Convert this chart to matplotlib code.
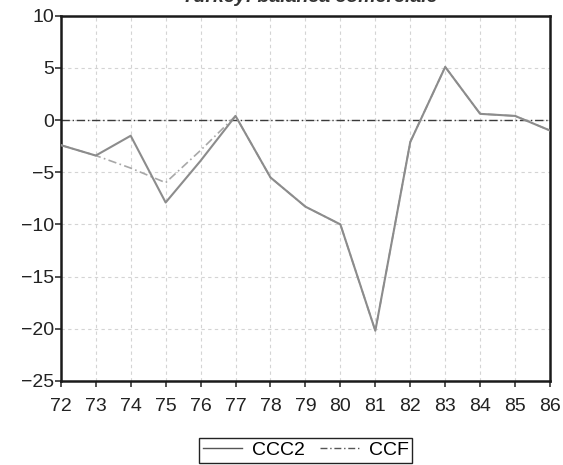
#!/usr/bin/env python3

import matplotlib
matplotlib.use('Agg')
import matplotlib.pyplot as plt

# years on the x axis (two-digit labels)
YEARS = list(range(72, 87))
CCC2 = [-2.4, -3.4, -1.5, -7.9, -3.9, 0.4, -5.5, -8.3, -10.0, -20.2, -2.1, 5.1, 0.6, 0.4, -1.0]
CCF = [-2.4, -3.4, -4.6, -6.0, -2.9, 0.4, -5.5, -8.3, -10.0, -20.2, -2.1, 5.1, 0.6, 0.4, -1.0]
Y_TICKS = [10, 5, 0, -5, -10, -15, -20, -25]
TITLE = "Turkey: balanca comerciale"

FONT_SIZE = 14
LINE_COLOR = "#8c8c8c"

plt.rcParams['font.family'] = ['Liberation Sans', 'DejaVu Sans']
plt.rcParams['font.size'] = FONT_SIZE

fig = plt.figure(figsize=(5.63, 4.65), dpi=100)
ax = fig.add_axes([0.108, 0.181, 0.869, 0.785])

ax.grid(True, color="#d4d4d4", linestyle=(0, (3, 3)), linewidth=0.8)
ax.set_axisbelow(True)

ax.axhline(0, color="#3a3a3a", linestyle=(0, (6, 2, 1, 2)), linewidth=1.0, zorder=2)
ax.plot(YEARS, CCF, color="#a8a8a8", linestyle=(0, (5, 2, 1, 2)), linewidth=1.2, label="CCF", zorder=3)
ax.plot(YEARS, CCC2, color=LINE_COLOR, linestyle='-', linewidth=1.5, label="CCC2", zorder=4)

ax.set_xlim(72, 86)
ax.set_ylim(-25, 10)
ax.set_xticks(YEARS)
ax.set_xticklabels([str(y) for y in YEARS])
ax.set_yticks(Y_TICKS)
ax.set_yticklabels([str(t).replace('-', '\u2212') for t in Y_TICKS])

for side in ['left', 'bottom', 'top', 'right']:
	ax.spines[side].set_color('#1a1a1a')
	ax.spines[side].set_linewidth(1.8)

ax.tick_params(axis='both', direction='out', length=4, width=1.2, color='#333333',
			   labelsize=FONT_SIZE, labelcolor='#222222')
ax.tick_params(axis='x', pad=8)
ax.tick_params(axis='y', pad=1)

# reorder legend: CCC2 then CCF
handles, labels = ax.get_legend_handles_labels()
order = [labels.index("CCC2"), labels.index("CCF")]
leg = fig.legend([handles[i] for i in order], [labels[i] for i in order],
				 loc='lower center', bbox_to_anchor=(0.543, 0.004), ncol=2,
				 fancybox=False, edgecolor='#222222', framealpha=1,
				 handlelength=2.0, handletextpad=0.5, columnspacing=0.8,
				 borderpad=0.2, borderaxespad=0.0, fontsize=FONT_SIZE)
leg.get_frame().set_linewidth(1.0)
for line in leg.get_lines():
	line.set_color('#555555')
	line.set_linewidth(1.0)

# title is almost entirely cut off at the top edge in the reference
fig.text(0.55, 1 - 2 / 465, TITLE, ha='center', va='baseline',
		 fontsize=FONT_SIZE, fontweight='bold', fontstyle='italic', color='#333333')

plt.savefig("out.png", dpi=100)
